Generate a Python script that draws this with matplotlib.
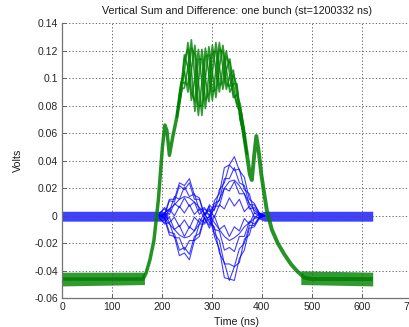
import matplotlib
matplotlib.use("Agg")
import matplotlib.pyplot as plt

plt.rcParams['font.family'] = ['Liberation Sans', 'DejaVu Sans']

title = "Vertical Sum and Difference: one bunch (st=1200332 ns)"
xlabel = "Time (ns)"
ylabel = "Volts"
xticks = [0, 100, 200, 300, 400, 500, 600, 700]
yticks = [-0.06, -0.04, -0.02, 0, 0.02, 0.04, 0.06, 0.08, 0.1, 0.12, 0.14]
yticklabels = ["-0.06", "-0.04", "-0.02", "0", "0.02", "0.04", "0.06", "0.08", "0.1", "0.12", "0.14"]

# ---- Sum signal (green) ----
green_rise_t = [0, 162, 168, 176, 184, 193, 201, 206, 210, 215, 222, 230, 238]
green_rise_v = [-0.046, -0.046, -0.042, -0.032, -0.018, 0.012, 0.050, 0.066, 0.062, 0.044, 0.058, 0.072, 0.092]

green_fall_t = [357, 364, 370, 376, 380, 385, 389, 394, 399, 404, 410, 420, 432, 445, 458, 470, 485, 500, 560, 622]
green_fall_v = [0.075, 0.060, 0.045, 0.030, 0.026, 0.045, 0.058, 0.046, 0.030, 0.018, 0.004, -0.010, -0.020, -0.028, -0.035, -0.040, -0.045, -0.046, -0.046, -0.046]

green_osc_t = [230, 238, 245, 252, 259, 266, 273, 280, 287, 294, 301, 308, 315, 322, 329, 336, 343, 350, 357, 364, 370]
green_trace_a = [0.072, 0.092, 0.093, 0.108, 0.128, 0.100, 0.073, 0.097, 0.122, 0.103, 0.084, 0.106, 0.126, 0.108, 0.092, 0.102, 0.106, 0.088, 0.069, 0.060, 0.045]
green_trace_b = [0.072, 0.097, 0.105, 0.090, 0.106, 0.124, 0.097, 0.073, 0.100, 0.123, 0.104, 0.086, 0.108, 0.124, 0.106, 0.090, 0.096, 0.096, 0.075, 0.056, 0.045]
green_trace_c = [0.072, 0.092, 0.117, 0.108, 0.084, 0.100, 0.121, 0.097, 0.078, 0.103, 0.124, 0.106, 0.090, 0.108, 0.120, 0.102, 0.086, 0.088, 0.081, 0.060, 0.045]
green_trace_d = [0.072, 0.087, 0.105, 0.126, 0.106, 0.076, 0.097, 0.121, 0.100, 0.083, 0.104, 0.126, 0.108, 0.092, 0.106, 0.114, 0.096, 0.080, 0.075, 0.064, 0.045]
green_trace_e = [0.072, 0.096, 0.097, 0.095, 0.122, 0.117, 0.080, 0.080, 0.116, 0.117, 0.090, 0.092, 0.121, 0.119, 0.096, 0.094, 0.103, 0.094, 0.071, 0.057, 0.045]
green_trace_f = [0.072, 0.089, 0.114, 0.121, 0.090, 0.083, 0.114, 0.114, 0.084, 0.089, 0.118, 0.120, 0.095, 0.097, 0.116, 0.111, 0.089, 0.082, 0.079, 0.063, 0.045]

green_base_left_t = [0, 165]
green_base_left_lo = [-0.051, -0.050]
green_base_left_hi = [-0.041, -0.041]
green_base_right_t = [478, 622]
green_base_right_lo = [-0.050, -0.051]
green_base_right_hi = [-0.040, -0.041]

# ---- Difference signal (blue) ----
blue_t = [195, 205, 215, 225, 235, 245, 255, 265, 275, 285, 295, 305, 315, 325, 335, 345, 355, 365, 375, 385, 395, 405]
blue_traces = [
    [0.000, 0.001, 0.012, 0.012, 0.024, 0.022, 0.027, 0.015, 0.013, 0.001, 0.007, -0.015, -0.024, -0.045, -0.046, -0.047, -0.031, -0.025, -0.009, -0.008, -0.002, 0.000],
    [0.000, -0.002, -0.014, -0.015, -0.029, -0.027, -0.032, -0.018, -0.015, -0.002, -0.007, 0.011, 0.016, 0.035, 0.037, 0.043, 0.033, 0.028, 0.012, 0.009, 0.002, 0.000],
    [0.001, 0.006, 0.003, 0.014, 0.012, 0.021, 0.014, 0.016, 0.004, 0.006, 0.000, 0.009, 0.011, 0.027, 0.027, 0.035, 0.024, 0.022, 0.008, 0.008, 0.002, 0.000],
    [-0.001, -0.006, -0.005, -0.016, -0.016, -0.025, -0.018, -0.018, -0.006, -0.006, -0.002, -0.013, -0.018, -0.035, -0.035, -0.037, -0.024, -0.020, -0.007, -0.007, -0.001, 0.000],
    [0.002, 0.005, 0.001, 0.009, 0.006, 0.013, 0.007, 0.010, 0.001, 0.005, 0.003, 0.007, 0.007, 0.020, 0.018, 0.025, 0.016, 0.016, 0.005, 0.006, 0.001, 0.000],
    [-0.002, -0.005, -0.001, -0.010, -0.007, -0.015, -0.008, -0.011, -0.002, -0.005, 0.000, -0.010, -0.011, -0.025, -0.023, -0.026, -0.015, -0.015, -0.004, -0.006, -0.001, 0.000],
    [0.000, 0.000, 0.011, 0.010, 0.022, 0.019, 0.024, 0.012, 0.012, 0.000, 0.005, -0.001, 0.008, 0.005, 0.013, 0.007, 0.012, 0.003, 0.007, -0.001, 0.001, 0.000],
    [0.000, -0.001, -0.012, -0.013, -0.025, -0.023, -0.028, -0.015, -0.013, -0.001, -0.009, 0.000, -0.010, -0.007, -0.015, -0.008, -0.011, -0.002, -0.006, 0.002, 0.000, 0.000],
    [0.001, -0.002, 0.005, 0.000, 0.007, 0.002, 0.008, 0.001, 0.005, -0.002, 0.008, 0.004, 0.019, 0.024, 0.037, 0.033, 0.034, 0.019, 0.016, 0.002, 0.002, 0.000],
    [-0.001, 0.002, -0.005, -0.001, -0.008, -0.003, -0.009, -0.001, -0.005, 0.002, -0.005, -0.008, -0.027, -0.034, -0.047, -0.037, -0.034, -0.017, -0.014, -0.001, -0.001, 0.000],
    [0.000, 0.002, 0.005, 0.008, 0.012, 0.014, 0.013, 0.010, 0.006, 0.002, 0.001, -0.005, -0.010, -0.015, -0.018, -0.016, -0.013, -0.008, -0.005, -0.002, -0.001, 0.000],
    [0.000, -0.002, -0.006, -0.010, -0.014, -0.016, -0.015, -0.011, -0.006, -0.002, -0.001, 0.005, 0.012, 0.020, 0.025, 0.026, 0.022, 0.016, 0.009, 0.004, 0.001, 0.000],
]
blue_base_left_t = [0, 200, 212]
blue_base_left_lo = [-0.0039, -0.0039, -0.002]
blue_base_left_hi = [0.0033, 0.0033, 0.002]
blue_base_right_t = [392, 405, 622]
blue_base_right_lo = [-0.002, -0.0039, -0.0039]
blue_base_right_hi = [0.002, 0.0033, 0.0033]

GREEN = (0.0, 0.5, 0.0)
BLUE = (0.0, 0.0, 1.0)

fig = plt.figure(figsize=(4.09, 3.27), dpi=100)
ax = fig.add_axes([62 / 409, 1 - 298.3 / 327, (411.7 - 62) / 409, (298.3 - 23.3) / 327])

# green
ax.fill_between(green_base_left_t, green_base_left_lo, green_base_left_hi, color=GREEN, lw=0, alpha=0.8)
ax.fill_between(green_base_right_t, green_base_right_lo, green_base_right_hi, color=GREEN, lw=0, alpha=0.8)
ax.plot(green_rise_t, green_rise_v, color=GREEN, lw=2.5, solid_capstyle='butt', alpha=0.85)
ax.plot(green_fall_t, green_fall_v, color=GREEN, lw=2.8, solid_capstyle='butt', alpha=0.85)
for tr in [green_trace_a, green_trace_b, green_trace_c, green_trace_d, green_trace_e, green_trace_f]:
    ax.plot(green_osc_t, tr, color=GREEN, lw=1.2, alpha=0.8)

# blue
ax.fill_between(blue_base_left_t, blue_base_left_lo, blue_base_left_hi, color=BLUE, lw=0, alpha=0.75)
ax.fill_between(blue_base_right_t, blue_base_right_lo, blue_base_right_hi, color=BLUE, lw=0, alpha=0.75)
for tr in blue_traces:
    ax.plot(blue_t, tr, color=BLUE, lw=0.8, alpha=0.75)

ax.set_xlim(0, 700)
ax.set_ylim(-0.06, 0.14)
ax.set_xticks(xticks)
ax.set_xticklabels([str(v) for v in xticks])
ax.set_yticks(yticks)
ax.set_yticklabels(yticklabels)
ax.tick_params(direction='in', length=3, width=0.6, color='0.3', labelsize=7.5,
               labelcolor='0.15', pad=3)
ax.grid(True, color='0.3', lw=0.6, ls=(0, (1.5, 2.5)))
for s in ['top', 'right']:
    ax.spines[s].set_visible(False)
for s in ['left', 'bottom']:
    ax.spines[s].set_color('0.45')
    ax.spines[s].set_linewidth(0.9)

ax.set_title(title, fontsize=7.7, color='0.1', pad=7)
ax.set_xlabel(xlabel, fontsize=7.7, color='0.1', labelpad=3)
ax.set_ylabel(ylabel, fontsize=7.7, color='0.1', labelpad=8)

fig.savefig("out.png", dpi=100)
